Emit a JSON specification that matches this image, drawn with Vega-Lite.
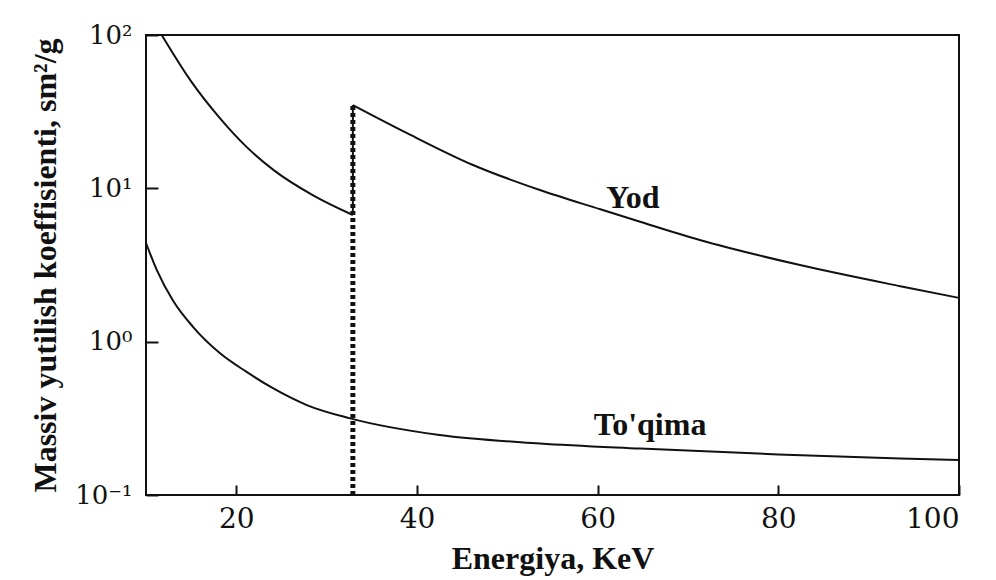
{
  "$schema": "https://vega.github.io/schema/vega-lite/v6.json",
  "width": 813,
  "height": 460,
  "autosize": "none",
  "padding": {"left": 146, "top": 35, "right": 37, "bottom": 85},
  "background": "white",
  "config": {
    "view": {"stroke": "#111", "strokeWidth": 2},
    "axis": {
      "grid": false,
      "domainOpacity": 0,
      "labelFont": "DejaVu Serif",
      "titleFont": "Liberation Serif, Times New Roman, serif",
      "titleFontWeight": "bold"
    }
  },
  "datasets": {
    "tissue": [
      {"E": 10, "v": 4.4},
      {"E": 11.2, "v": 2.93},
      {"E": 13.0, "v": 1.85},
      {"E": 15.2, "v": 1.25},
      {"E": 18.2, "v": 0.84},
      {"E": 21.1, "v": 0.637},
      {"E": 24.1, "v": 0.495},
      {"E": 27.8, "v": 0.386},
      {"E": 32.6, "v": 0.316},
      {"E": 42.5, "v": 0.246},
      {"E": 53.6, "v": 0.217},
      {"E": 64.7, "v": 0.201},
      {"E": 80, "v": 0.184},
      {"E": 93.5, "v": 0.173},
      {"E": 100, "v": 0.169}
    ],
    "yodLow": [
      {"E": 11.74, "v": 100},
      {"E": 14.9, "v": 50.8},
      {"E": 18.2, "v": 28.6},
      {"E": 21.1, "v": 18.7},
      {"E": 24.1, "v": 13.2},
      {"E": 28.5, "v": 9.0},
      {"E": 32.9, "v": 6.7}
    ],
    "yodHigh": [
      {"E": 32.9, "v": 34.9},
      {"E": 38.9, "v": 22.9},
      {"E": 46.2, "v": 14.2},
      {"E": 53.6, "v": 9.75},
      {"E": 60.3, "v": 7.3},
      {"E": 64.7, "v": 6.05},
      {"E": 71.3, "v": 4.6},
      {"E": 82.4, "v": 3.16},
      {"E": 93.5, "v": 2.30},
      {"E": 100, "v": 1.93}
    ],
    "edge": [{"E": 32.9, "v": 0.1, "hi": 34.9, "jlo": 6.7}],
    "labels": [
      {"E": 63.9, "v": 8.65, "t": "Yod"},
      {"E": 65.8, "v": 0.286, "t": "To'qima"}
    ]
  },
  "layer": [
    {
      "data": {"name": "tissue"},
      "mark": {"type": "line", "interpolate": "monotone", "color": "#111", "strokeWidth": 2},
      "encoding": {
        "x": {
          "field": "E", "type": "quantitative",
          "scale": {"domain": [10, 100], "nice": false, "zero": false},
          "axis": {
            "orient": "bottom", "values": [20, 40, 60, 80, 100], "offset": -10,
            "tickSize": 10, "tickWidth": 2, "tickColor": "#111", "labelColor": "#111", "titleColor": "#111",
            "labelFontSize": 28, "labelPadding": 10,
            "title": "Energiya, KeV", "titleFontSize": 32, "titlePadding": 10
          }
        },
        "y": {
          "field": "v", "type": "quantitative",
          "scale": {"type": "log", "domain": [0.1, 100], "nice": false},
          "axis": {
            "orient": "left", "values": [0.1, 1, 10, 100], "offset": -12,
            "labelExpr": "datum.value >= 99 ? '10²' : datum.value >= 9 ? '10¹' : datum.value >= 0.9 ? '10⁰' : '10⁻¹'",
            "tickSize": 12, "tickWidth": 2, "tickColor": "#111", "labelColor": "#111", "titleColor": "#111",
            "labelFontSize": 26, "labelPadding": 14,
            "title": "Massiv yutilish koeffisienti, sm²/g", "titleFontSize": 32, "titlePadding": 12
          }
        }
      }
    },
    {
      "data": {"name": "yodLow"},
      "mark": {"type": "line", "interpolate": "monotone", "color": "#111", "strokeWidth": 2},
      "encoding": {
        "x": {"field": "E", "type": "quantitative", "scale": {"domain": [10, 100], "nice": false, "zero": false}},
        "y": {"field": "v", "type": "quantitative", "scale": {"type": "log", "domain": [0.1, 100], "nice": false}}
      }
    },
    {
      "data": {"name": "yodHigh"},
      "mark": {"type": "line", "interpolate": "monotone", "color": "#111", "strokeWidth": 2},
      "encoding": {
        "x": {"field": "E", "type": "quantitative", "scale": {"domain": [10, 100], "nice": false, "zero": false}},
        "y": {"field": "v", "type": "quantitative", "scale": {"type": "log", "domain": [0.1, 100], "nice": false}}
      }
    },
    {
      "data": {"name": "labels"},
      "mark": {"type": "text", "font": "Liberation Serif, Times New Roman, serif", "fontWeight": "bold", "fontSize": 32, "color": "#111", "baseline": "middle", "align": "center"},
      "encoding": {
        "x": {"field": "E", "type": "quantitative", "scale": {"domain": [10, 100], "nice": false, "zero": false}},
        "y": {"field": "v", "type": "quantitative", "scale": {"type": "log", "domain": [0.1, 100], "nice": false}},
        "text": {"field": "t"}
      }
    },
    {
      "data": {"name": "edge"},
      "mark": {"type": "rule", "color": "#111", "strokeWidth": 2},
      "encoding": {
        "x": {"field": "E", "type": "quantitative", "scale": {"domain": [10, 100], "nice": false, "zero": false}},
        "y": {"field": "jlo", "type": "quantitative", "scale": {"type": "log", "domain": [0.1, 100], "nice": false}},
        "y2": {"field": "hi"}
      }
    },
    {
      "data": {"name": "edge"},
      "mark": {"type": "rule", "color": "#111", "strokeWidth": 5, "strokeDash": [4, 3]},
      "encoding": {
        "x": {"field": "E", "type": "quantitative", "scale": {"domain": [10, 100], "nice": false, "zero": false}},
        "y": {"field": "v", "type": "quantitative", "scale": {"type": "log", "domain": [0.1, 100], "nice": false}},
        "y2": {"field": "hi"}
      }
    }
  ]
}
